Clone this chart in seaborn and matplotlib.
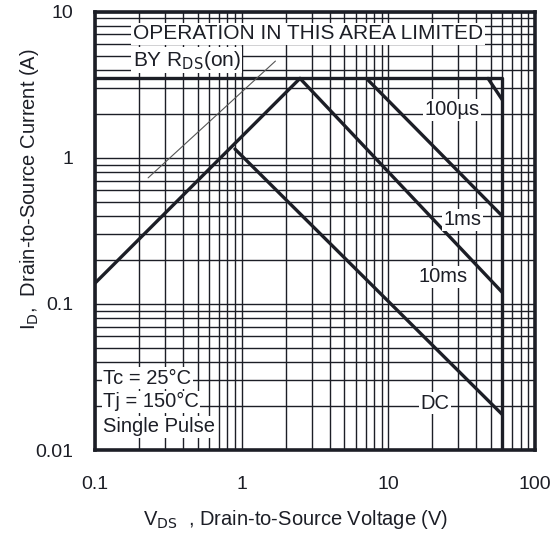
import seaborn as sns
import matplotlib.pyplot as plt
import pandas as pd

# safe operating area
rds_v = [0.1, 2.5]
rds_i = [0.139, 3.5]
limit_v = [0.1, 60, 60]
limit_i = [3.5, 3.5, 0.01]
dc_v = [0.9, 60]
dc_i = [1.15, 0.0175]
ms10_v = [2.5, 60]
ms10_i = [3.5, 0.12]
ms1_v = [7.1, 60]
ms1_i = [3.5, 0.4]
us100_v = [48, 60]
us100_i = [3.5, 2.5]
guide_v = [0.23, 1.7]
guide_i = [0.73, 4.6]

curve_labels = ['100\u00b5s', '1ms', '10ms', 'DC']
x_ticks = [0.1, 1, 10, 100]
x_ticklabels = ['0.1', '1', '10', '100']
y_ticks = [0.01, 0.1, 1, 10]
y_ticklabels = ['0.01', '0.1', '1', '10']

sns.set_theme(style='white')
plt.rcParams['font.family'] = ['Liberation Sans', 'DejaVu Sans']

fig = plt.figure(figsize=(5.53, 5.37), dpi=100)
ax = fig.add_axes([0.172, 0.162, 0.795, 0.816])
ax.set_xscale('log')
ax.set_yscale('log')

ink = '#1c1e26'
thick = [(rds_v, rds_i), (limit_v, limit_i), (dc_v, dc_i),
         (ms10_v, ms10_i), (ms1_v, ms1_i), (us100_v, us100_i)]
for xs, ys in thick:
    df = pd.DataFrame({'V': xs, 'I': ys})
    sns.lineplot(data=df, x='V', y='I', color=ink, lw=2.4, estimator=None,
                 sort=False, ax=ax, zorder=3)
sns.lineplot(x=guide_v, y=guide_i, color='#555555', lw=0.8, estimator=None,
             sort=False, ax=ax, zorder=3)

ax.set_xlim(0.1, 100)
ax.set_ylim(0.01, 10)
ax.grid(which='both', color=ink, lw=1.0)
ax.set_axisbelow(True)
for s in ax.spines.values():
    s.set_color(ink)
    s.set_linewidth(2.6)

ax.set_xticks(x_ticks)
ax.set_xticklabels(x_ticklabels)
ax.set_yticks(y_ticks)
ax.set_yticklabels(y_ticklabels)
ax.tick_params(axis='x', which='major', length=0, pad=19, labelsize=14, colors=ink)
ax.tick_params(axis='y', which='major', direction='in', length=14, width=1.5,
               pad=16, labelsize=14, colors=ink)
ax.tick_params(which='minor', length=0)

ax.set_xlabel('V$_{\\rm DS}$  , Drain-to-Source Voltage (V)', fontsize=14.5,
              color=ink)
ax.set_ylabel('I$_{\\rm D}$,  Drain-to-Source Current (A)', fontsize=14.5,
              color=ink)
ax.xaxis.set_label_coords(0.457, -0.132)
ax.yaxis.set_label_coords(-0.122, 0.596)

box = dict(facecolor='white', edgecolor='none', pad=1.0)
ax.text(0.086, 0.95, 'OPERATION IN THIS AREA LIMITED', transform=ax.transAxes,
        fontsize=15, color=ink, va='center', bbox=box, zorder=4)
ax.text(0.086, 0.89, 'BY R$_{\\rm DS}$(on)', transform=ax.transAxes,
        fontsize=15, color=ink, va='center', bbox=box, zorder=4)

label_pos = [(0.811, 0.776), (0.836, 0.525), (0.791, 0.395), (0.773, 0.107)]
for lab, (lx, ly) in zip(curve_labels, label_pos):
    ax.text(lx, ly, lab, transform=ax.transAxes, fontsize=14.5, color=ink,
            ha='center', va='center', bbox=box, zorder=4)

for txt, ty in [('Tc = 25\u00b0C', 0.164), ('Tj = 150\u00b0C', 0.110),
                ('Single Pulse', 0.053)]:
    ax.text(0.018, ty, txt, transform=ax.transAxes, fontsize=14.5, color=ink,
            va='center', bbox=box, zorder=4)

fig.savefig('out.png', dpi=100, facecolor='white')
plt.close()
